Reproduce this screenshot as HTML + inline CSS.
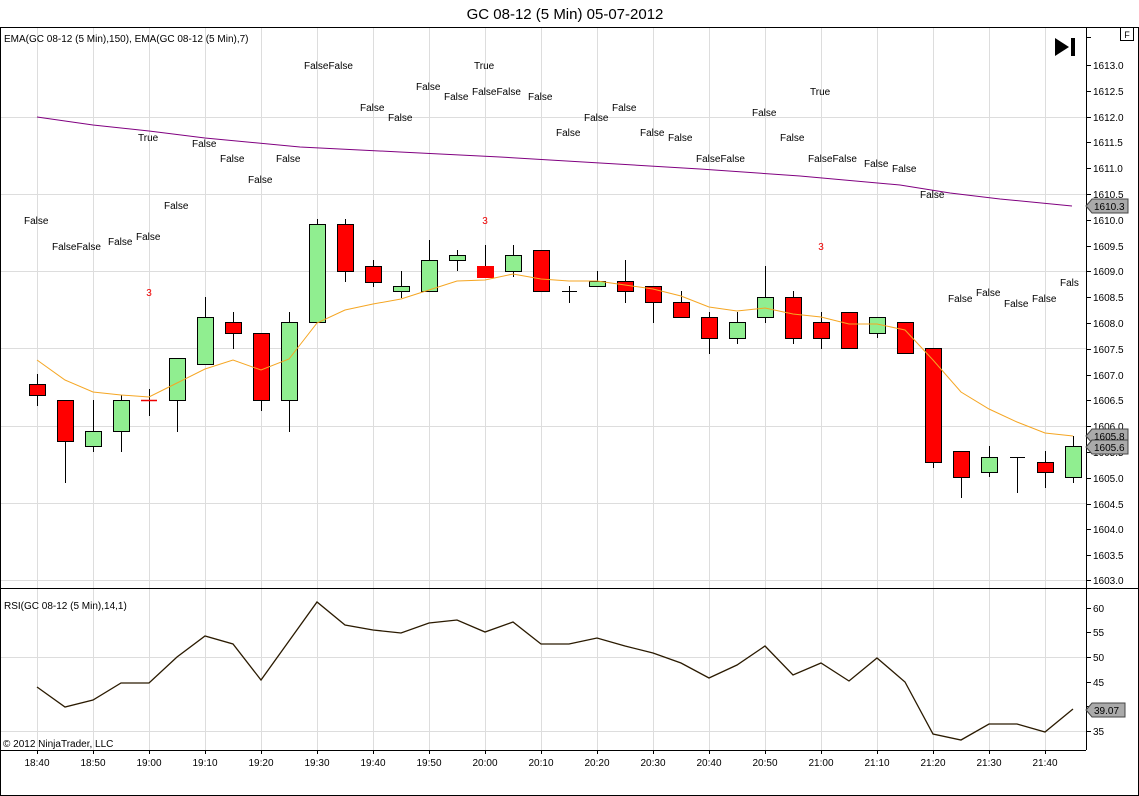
<!DOCTYPE html>
<html><head><meta charset="utf-8"><style>
body{margin:0;background:#fff;}
svg{display:block;font-family:"Liberation Sans",sans-serif;}
</style></head><body>
<svg width="1139" height="796" viewBox="0 0 1139 796" xmlns="http://www.w3.org/2000/svg">
<rect width="1139" height="796" fill="#fff"/>
<text x="565" y="19" font-size="15" text-anchor="middle">GC 08-12 (5 Min)  05-07-2012</text>
<rect x="0.5" y="27.5" width="1138" height="768" fill="none" stroke="#000"/>
<g stroke="#ddd" stroke-width="1">
<line x1="37.5" y1="28" x2="37.5" y2="750"/><line x1="93.5" y1="28" x2="93.5" y2="750"/><line x1="149.5" y1="28" x2="149.5" y2="750"/><line x1="205.5" y1="28" x2="205.5" y2="750"/><line x1="261.5" y1="28" x2="261.5" y2="750"/><line x1="317.5" y1="28" x2="317.5" y2="750"/><line x1="373.5" y1="28" x2="373.5" y2="750"/><line x1="429.5" y1="28" x2="429.5" y2="750"/><line x1="485.5" y1="28" x2="485.5" y2="750"/><line x1="541.5" y1="28" x2="541.5" y2="750"/><line x1="597.5" y1="28" x2="597.5" y2="750"/><line x1="653.5" y1="28" x2="653.5" y2="750"/><line x1="709.5" y1="28" x2="709.5" y2="750"/><line x1="765.5" y1="28" x2="765.5" y2="750"/><line x1="821.5" y1="28" x2="821.5" y2="750"/><line x1="877.5" y1="28" x2="877.5" y2="750"/><line x1="933.5" y1="28" x2="933.5" y2="750"/><line x1="989.5" y1="28" x2="989.5" y2="750"/><line x1="1045.5" y1="28" x2="1045.5" y2="750"/>
<line x1="1" y1="117.5" x2="1086" y2="117.5"/><line x1="1" y1="194.5" x2="1086" y2="194.5"/><line x1="1" y1="271.5" x2="1086" y2="271.5"/><line x1="1" y1="348.5" x2="1086" y2="348.5"/><line x1="1" y1="426.5" x2="1086" y2="426.5"/><line x1="1" y1="503.5" x2="1086" y2="503.5"/><line x1="1" y1="580.5" x2="1086" y2="580.5"/>
<line x1="1" y1="657.5" x2="1086" y2="657.5"/><line x1="1" y1="731.5" x2="1086" y2="731.5"/>
</g>
<line x1="0" y1="588.5" x2="1139" y2="588.5" stroke="#000"/>
<line x1="0" y1="750.5" x2="1086" y2="750.5" stroke="#000"/>
<line x1="1086.5" y1="28" x2="1086.5" y2="750" stroke="#000"/>
<rect x="1120.5" y="27.5" width="13" height="13" fill="#fff" stroke="#000"/>
<text x="1127" y="38" font-size="9" text-anchor="middle">F</text>
<polygon points="1055,38 1055,56 1069,47" fill="#000"/><rect x="1071" y="38" width="4" height="18" fill="#000"/>
<text x="4" y="42" font-size="10">EMA(GC 08-12 (5 Min),150), EMA(GC 08-12 (5 Min),7)</text>
<text x="4" y="609" font-size="10">RSI(GC 08-12 (5 Min),14,1)</text>
<text x="3" y="747" font-size="10">© 2012 NinjaTrader, LLC</text>
<g font-size="10" fill="#000">
<g stroke="#000">
<line x1="1086" y1="37.5" x2="1091" y2="37.5"/><line x1="1086" y1="65.5" x2="1091" y2="65.5"/><line x1="1086" y1="91.5" x2="1091" y2="91.5"/><line x1="1086" y1="117.5" x2="1091" y2="117.5"/><line x1="1086" y1="142.5" x2="1091" y2="142.5"/><line x1="1086" y1="168.5" x2="1091" y2="168.5"/><line x1="1086" y1="194.5" x2="1091" y2="194.5"/><line x1="1086" y1="220.5" x2="1091" y2="220.5"/><line x1="1086" y1="246.5" x2="1091" y2="246.5"/><line x1="1086" y1="271.5" x2="1091" y2="271.5"/><line x1="1086" y1="297.5" x2="1091" y2="297.5"/><line x1="1086" y1="323.5" x2="1091" y2="323.5"/><line x1="1086" y1="349.5" x2="1091" y2="349.5"/><line x1="1086" y1="375.5" x2="1091" y2="375.5"/><line x1="1086" y1="400.5" x2="1091" y2="400.5"/><line x1="1086" y1="426.5" x2="1091" y2="426.5"/><line x1="1086" y1="452.5" x2="1091" y2="452.5"/><line x1="1086" y1="478.5" x2="1091" y2="478.5"/><line x1="1086" y1="504.5" x2="1091" y2="504.5"/><line x1="1086" y1="529.5" x2="1091" y2="529.5"/><line x1="1086" y1="555.5" x2="1091" y2="555.5"/><line x1="1086" y1="580.5" x2="1091" y2="580.5"/>
<line x1="1086" y1="608.5" x2="1091" y2="608.5"/><line x1="1086" y1="632.5" x2="1091" y2="632.5"/><line x1="1086" y1="657.5" x2="1091" y2="657.5"/><line x1="1086" y1="682.5" x2="1091" y2="682.5"/><line x1="1086" y1="706.5" x2="1091" y2="706.5"/><line x1="1086" y1="731.5" x2="1091" y2="731.5"/>
</g>
<text x="1093" y="69">1613.0</text><text x="1093" y="95">1612.5</text><text x="1093" y="121">1612.0</text><text x="1093" y="146">1611.5</text><text x="1093" y="172">1611.0</text><text x="1093" y="198">1610.5</text><text x="1093" y="224">1610.0</text><text x="1093" y="250">1609.5</text><text x="1093" y="275">1609.0</text><text x="1093" y="301">1608.5</text><text x="1093" y="327">1608.0</text><text x="1093" y="353">1607.5</text><text x="1093" y="379">1607.0</text><text x="1093" y="404">1606.5</text><text x="1093" y="430">1606.0</text><text x="1093" y="456">1605.5</text><text x="1093" y="482">1605.0</text><text x="1093" y="508">1604.5</text><text x="1093" y="533">1604.0</text><text x="1093" y="559">1603.5</text><text x="1093" y="584">1603.0</text>
<text x="1093" y="612">60</text><text x="1093" y="636">55</text><text x="1093" y="661">50</text><text x="1093" y="686">45</text><text x="1093" y="710">40</text><text x="1093" y="735">35</text>
</g>
<g font-size="10" fill="#000" stroke="#444">
<polygon points="1086,206 1092,199 1128,199 1128,213 1092,213" fill="#aaa"/>
<polygon points="1086,436 1092,429 1128,429 1128,443 1092,443" fill="#aaa"/>
<polygon points="1086,447 1092,440 1128,440 1128,454 1092,454" fill="#aaa"/>
<polygon points="1086,710 1092,703 1125,703 1125,717 1092,717" fill="#aaa"/>
</g>
<g font-size="10" fill="#000"><text x="1094" y="210">1610.3</text><text x="1094" y="440">1605.8</text><text x="1094" y="451">1605.6</text><text x="1094" y="714">39.07</text></g>
<polyline fill="none" stroke="#800080" stroke-width="1" points="37,117 93,125 149,131 205,138 300,147 400,152 500,157 600,163 700,169 800,176 900,185 950,193 1000,199 1072,206"/>
<g stroke="#000" stroke-width="1">
<line x1="37.5" y1="374" x2="37.5" y2="406"/><line x1="65.5" y1="400" x2="65.5" y2="483"/><line x1="93.5" y1="400" x2="93.5" y2="452"/><line x1="121.5" y1="395" x2="121.5" y2="452"/><line x1="149.5" y1="389" x2="149.5" y2="416"/><line x1="177.5" y1="358" x2="177.5" y2="432"/><line x1="205.5" y1="297" x2="205.5" y2="364"/><line x1="233.5" y1="312" x2="233.5" y2="349"/><line x1="261.5" y1="333" x2="261.5" y2="411"/><line x1="289.5" y1="312" x2="289.5" y2="432"/><line x1="317.5" y1="219" x2="317.5" y2="322"/><line x1="345.5" y1="219" x2="345.5" y2="282"/><line x1="373.5" y1="260" x2="373.5" y2="287"/><line x1="401.5" y1="271" x2="401.5" y2="298"/><line x1="429.5" y1="240" x2="429.5" y2="291"/><line x1="457.5" y1="250" x2="457.5" y2="271"/><line x1="485.5" y1="245" x2="485.5" y2="277"/><line x1="513.5" y1="245" x2="513.5" y2="277"/><line x1="541.5" y1="250" x2="541.5" y2="291"/><line x1="569.5" y1="286" x2="569.5" y2="303"/><line x1="562" y1="291.5" x2="577" y2="291.5"/><line x1="597.5" y1="271" x2="597.5" y2="286"/><line x1="625.5" y1="260" x2="625.5" y2="303"/><line x1="653.5" y1="286" x2="653.5" y2="323"/><line x1="681.5" y1="291" x2="681.5" y2="317"/><line x1="709.5" y1="312" x2="709.5" y2="354"/><line x1="737.5" y1="312" x2="737.5" y2="344"/><line x1="765.5" y1="266" x2="765.5" y2="323"/><line x1="793.5" y1="291" x2="793.5" y2="344"/><line x1="821.5" y1="312" x2="821.5" y2="349"/><line x1="849.5" y1="312" x2="849.5" y2="348"/><line x1="877.5" y1="317" x2="877.5" y2="338"/><line x1="905.5" y1="322" x2="905.5" y2="353"/><line x1="933.5" y1="348" x2="933.5" y2="468"/><line x1="961.5" y1="451" x2="961.5" y2="498"/><line x1="989.5" y1="446" x2="989.5" y2="477"/><line x1="1017.5" y1="457" x2="1017.5" y2="493"/><line x1="1010" y1="457.5" x2="1025" y2="457.5"/><line x1="1045.5" y1="451" x2="1045.5" y2="488"/><line x1="1073.5" y1="436" x2="1073.5" y2="483"/>
</g>
<line x1="141" y1="400.5" x2="157" y2="400.5" stroke="#e00" stroke-width="1.5"/>
<g stroke="#000" stroke-width="1">
<rect x="29.5" y="384.5" width="16" height="11" fill="#f00"/>
<rect x="57.5" y="400.5" width="16" height="41" fill="#f00"/>
<rect x="85.5" y="431.5" width="16" height="15" fill="#90ee90"/>
<rect x="113.5" y="400.5" width="16" height="31" fill="#90ee90"/>
<rect x="169.5" y="358.5" width="16" height="42" fill="#90ee90"/>
<rect x="197.5" y="317.5" width="16" height="47" fill="#90ee90"/>
<rect x="225.5" y="322.5" width="16" height="11" fill="#f00"/>
<rect x="253.5" y="333.5" width="16" height="67" fill="#f00"/>
<rect x="281.5" y="322.5" width="16" height="78" fill="#90ee90"/>
<rect x="309.5" y="224.5" width="16" height="98" fill="#90ee90"/>
<rect x="337.5" y="224.5" width="16" height="47" fill="#f00"/>
<rect x="365.5" y="266.5" width="16" height="16" fill="#f00"/>
<rect x="393.5" y="286.5" width="16" height="5" fill="#90ee90"/>
<rect x="421.5" y="260.5" width="16" height="31" fill="#90ee90"/>
<rect x="449.5" y="255.5" width="16" height="5" fill="#90ee90"/>
<rect x="477.5" y="266.5" width="16" height="11" fill="#f00" stroke="#f00"/>
<rect x="505.5" y="255.5" width="16" height="16" fill="#90ee90"/>
<rect x="533.5" y="250.5" width="16" height="41" fill="#f00"/>
<rect x="589.5" y="281.5" width="16" height="5" fill="#90ee90"/>
<rect x="617.5" y="281.5" width="16" height="10" fill="#f00"/>
<rect x="645.5" y="286.5" width="16" height="16" fill="#f00"/>
<rect x="673.5" y="302.5" width="16" height="15" fill="#f00"/>
<rect x="701.5" y="317.5" width="16" height="21" fill="#f00"/>
<rect x="729.5" y="322.5" width="16" height="16" fill="#90ee90"/>
<rect x="757.5" y="297.5" width="16" height="20" fill="#90ee90"/>
<rect x="785.5" y="297.5" width="16" height="41" fill="#f00"/>
<rect x="813.5" y="322.5" width="16" height="16" fill="#f00"/>
<rect x="841.5" y="312.5" width="16" height="36" fill="#f00"/>
<rect x="869.5" y="317.5" width="16" height="16" fill="#90ee90"/>
<rect x="897.5" y="322.5" width="16" height="31" fill="#f00"/>
<rect x="925.5" y="348.5" width="16" height="114" fill="#f00"/>
<rect x="953.5" y="451.5" width="16" height="26" fill="#f00"/>
<rect x="981.5" y="457.5" width="16" height="15" fill="#90ee90"/>
<rect x="1037.5" y="462.5" width="16" height="10" fill="#f00"/>
<rect x="1065.5" y="446.5" width="16" height="31" fill="#90ee90"/>
</g>
<polyline fill="none" stroke="#f5a623" stroke-width="1" points="37,360 65,380 93,392 121,395 149,397 177,383 205,369 233,360 261,370 289,359 317,323 345,310 373,304 401,299 429,290 457,281 485,280 513,274 541,279 569,281 597,281 625,285 653,289 681,296 709,307 737,311 765,308 793,314 821,317 849,324 877,324 905,330 933,360 961,392 989,409 1017,422 1045,433 1073,436"/>
<polyline fill="none" stroke="#2a1a00" stroke-width="1.3" points="37,687 65,707 93,700 121,683 149,683 177,657 205,636 233,644 261,680 289,641 317,602 345,625 373,630 401,633 429,623 457,620 485,632 513,622 541,644 569,644 597,638 625,646 653,653 681,663 709,678 737,665 765,646 793,675 821,663 849,681 877,658 905,682 933,734 961,740 989,724 1017,724 1045,732 1073,709"/>
<g font-size="10" fill="#000">
<text x="24" y="224">False</text><text x="52" y="250">FalseFalse</text><text x="108" y="245">False</text><text x="136" y="240">False</text>
<text x="138" y="141">True</text><text x="192" y="147">False</text><text x="220" y="162">False</text><text x="276" y="162">False</text><text x="248" y="183">False</text><text x="164" y="209">False</text>
<text x="304" y="69">FalseFalse</text><text x="360" y="111">False</text><text x="388" y="121">False</text><text x="416" y="90">False</text><text x="444" y="100">False</text><text x="472" y="95">FalseFalse</text><text x="474" y="69">True</text><text x="528" y="100">False</text>
<text x="556" y="136">False</text><text x="584" y="121">False</text><text x="612" y="111">False</text><text x="640" y="136">False</text><text x="668" y="141">False</text><text x="696" y="162">FalseFalse</text><text x="752" y="116">False</text><text x="780" y="141">False</text><text x="810" y="95">True</text><text x="808" y="162">FalseFalse</text><text x="864" y="167">False</text><text x="892" y="172">False</text><text x="920" y="198">False</text>
<text x="948" y="302">False</text><text x="976" y="296">False</text><text x="1004" y="307">False</text><text x="1032" y="302">False</text><text x="1060" y="286">Fals</text>
</g>
<g font-size="10" fill="#e00" text-anchor="middle"><text x="149" y="296">3</text><text x="485" y="224">3</text><text x="821" y="250">3</text></g>
<g font-size="10" fill="#000" text-anchor="middle">
<text x="37" y="766">18:40</text><text x="93" y="766">18:50</text><text x="149" y="766">19:00</text><text x="205" y="766">19:10</text><text x="261" y="766">19:20</text><text x="317" y="766">19:30</text><text x="373" y="766">19:40</text><text x="429" y="766">19:50</text><text x="485" y="766">20:00</text><text x="541" y="766">20:10</text><text x="597" y="766">20:20</text><text x="653" y="766">20:30</text><text x="709" y="766">20:40</text><text x="765" y="766">20:50</text><text x="821" y="766">21:00</text><text x="877" y="766">21:10</text><text x="933" y="766">21:20</text><text x="989" y="766">21:30</text><text x="1045" y="766">21:40</text>
</g>
<g stroke="#000"><line x1="37.5" y1="750" x2="37.5" y2="754"/><line x1="93.5" y1="750" x2="93.5" y2="754"/><line x1="149.5" y1="750" x2="149.5" y2="754"/><line x1="205.5" y1="750" x2="205.5" y2="754"/><line x1="261.5" y1="750" x2="261.5" y2="754"/><line x1="317.5" y1="750" x2="317.5" y2="754"/><line x1="373.5" y1="750" x2="373.5" y2="754"/><line x1="429.5" y1="750" x2="429.5" y2="754"/><line x1="485.5" y1="750" x2="485.5" y2="754"/><line x1="541.5" y1="750" x2="541.5" y2="754"/><line x1="597.5" y1="750" x2="597.5" y2="754"/><line x1="653.5" y1="750" x2="653.5" y2="754"/><line x1="709.5" y1="750" x2="709.5" y2="754"/><line x1="765.5" y1="750" x2="765.5" y2="754"/><line x1="821.5" y1="750" x2="821.5" y2="754"/><line x1="877.5" y1="750" x2="877.5" y2="754"/><line x1="933.5" y1="750" x2="933.5" y2="754"/><line x1="989.5" y1="750" x2="989.5" y2="754"/><line x1="1045.5" y1="750" x2="1045.5" y2="754"/></g>
</svg>
</body></html>
